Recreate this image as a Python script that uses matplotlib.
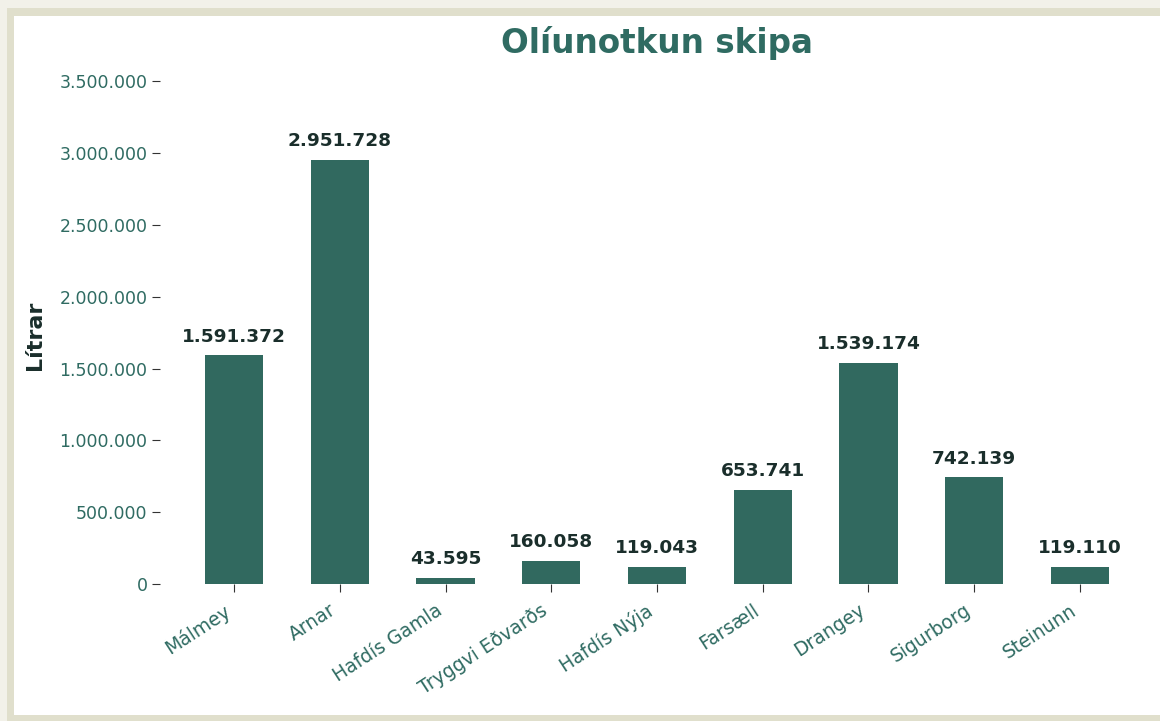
import matplotlib
matplotlib.use("Agg")
import matplotlib.pyplot as plt
from matplotlib.patches import Rectangle
from matplotlib.ticker import FuncFormatter

ships = ["Málmey", "Arnar", "Hafdís Gamla", "Tryggvi Eðvarðs", "Hafdís Nýja",
         "Farsæll", "Drangey", "Sigurborg", "Steinunn"]
litres = [1591372, 2951728, 43595, 160058, 119043, 653741, 1539174, 742139, 119110]
yticks = [0, 500000, 1000000, 1500000, 2000000, 2500000, 3000000, 3500000]

BAR = "#31695f"
TEAL = "#2f6b62"
DARK = "#1a2e2b"


def dots(v, _=None):
    return f"{int(v):,}".replace(",", ".")


W, H = 1160, 721
fig = plt.figure(figsize=(W / 100, H / 100), dpi=100, facecolor="white")

# page frame around the figure
fig.patches.append(Rectangle((0, 0), 1, 1, transform=fig.transFigure,
                             facecolor="#f2f1e9", edgecolor="none", zorder=-3))
fig.patches.append(Rectangle((6.5 / W, 0), 1, (H - 7.5) / H, transform=fig.transFigure,
                             facecolor="#e0dfcc", edgecolor="none", zorder=-2))
fig.patches.append(Rectangle((13.5 / W, 6.5 / H), 1, (H - 22) / H, transform=fig.transFigure,
                             facecolor="white", edgecolor="none", zorder=-1))

ax = fig.add_axes([160 / W, 137 / H, 994 / W, 510 / H])
ax.set_facecolor("none")
x = range(len(ships))
bars = ax.bar(x, litres, width=0.55, color=BAR)
for b, v in zip(bars, litres):
    ax.annotate(dots(v), (b.get_x() + b.get_width() / 2, v), xytext=(0, 7),
                textcoords="offset points", ha="center", va="bottom",
                fontsize=13.3, fontweight="bold", color=DARK)

ax.set_xlim(-0.7, 8.7)
ax.set_ylim(0, 3.55e6)
ax.set_yticks(yticks)
ax.yaxis.set_major_formatter(FuncFormatter(dots))
ax.set_xticks(list(x))
ax.set_xticklabels(ships, rotation=33, ha="right")
ax.tick_params(axis="y", labelsize=12.5, labelcolor=TEAL, color="#333333",
               length=6, pad=3)
ax.tick_params(axis="x", labelsize=13.5, labelcolor=TEAL, color="#333333",
               length=6, pad=6)
for s in ax.spines.values():
    s.set_visible(False)

ax.set_ylabel("Lítrar", fontsize=16, fontweight="bold", color=DARK)
ax.yaxis.set_label_coords(-115 / 994, 0.488)
ax.set_title("Olíunotkun skipa", fontsize=23.5, fontweight="bold", color=TEAL, pad=15)

fig.savefig("out.png", dpi=100, facecolor=fig.get_facecolor())
